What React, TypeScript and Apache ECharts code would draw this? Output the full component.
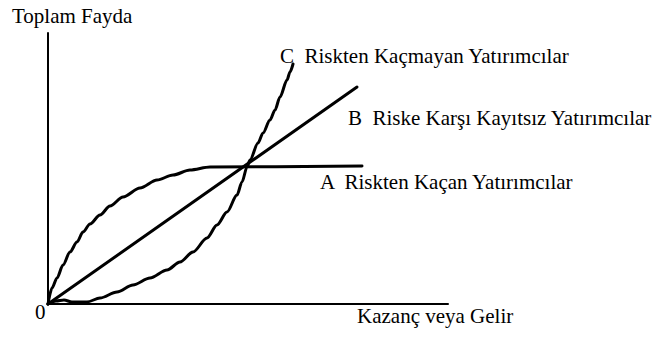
import React, { useEffect, useRef } from "react";
import * as echarts from "echarts";

// Conceptual utility curves: x = gain/income, y = total utility (arbitrary units)
const riskAverseCurve: [number, number][] = [
  [0, 0], [4, 16], [9, 26], [15, 39], [22, 52], [29, 62], [35, 72], [42, 80],
  [52, 89], [62, 98], [75, 107], [92, 116], [109, 124], [125, 129], [142, 134],
  [162, 137], [314, 138],
];
const riskNeutralLine: [number, number][] = [
  [0, 0], [309, 217],
];
const riskSeekingCurve: [number, number][] = [
  [0, 0], [8, 3], [16, 4], [24, 2], [39, 2], [52, 6], [69, 12], [85, 19],
  [102, 26], [119, 34], [132, 42], [145, 52], [159, 66], [169, 79], [179, 92],
  [189, 109], [194, 122], [199, 137], [202, 144], [210, 161], [215, 171],
  [222, 184], [227, 194], [232, 207], [239, 224], [242, 232], [245, 240],
];

const seriesLabels = [
  "C  Riskten Kaçmayan Yatırımcılar",
  "B  Riske Karşı Kayıtsız Yatırımcılar",
  "A  Riskten Kaçan Yatırımcılar",
];
const yAxisTitle = "Toplam Fayda";
const xAxisTitle = "Kazanç veya Gelir";
const originLabel = "0";

const FONT = "21px 'Liberation Serif', 'Times New Roman', serif";

export default function App() {
  const ref = useRef<HTMLDivElement>(null);
  useEffect(() => {
    if (!ref.current) return;
    const chart = echarts.init(ref.current, null, { renderer: "svg" });
    const lineSeries = (name: string, data: [number, number][], smooth: number) => ({
      type: "line" as const,
      name,
      data,
      showSymbol: false,
      symbol: "none",
      clip: false,
      smooth,
      smoothMonotone: "x",
      lineStyle: { color: "#000", width: 3, cap: "round", join: "round" },
    });
    const text = (t: string, x: number, y: number) => ({
      type: "text" as const,
      x,
      y,
      style: {
        text: t,
        font: FONT,
        fill: "#000",
        textAlign: "left",
        textVerticalAlign: "middle",
      },
    });
    chart.setOption({
      animation: false,
      backgroundColor: "#fff",
      grid: { left: 48, top: 33, width: 400, height: 271 },
      xAxis: {
        type: "value",
        min: 0,
        max: 400,
        axisLine: { show: true, lineStyle: { color: "#000", width: 2 } },
        axisTick: { show: false },
        axisLabel: { show: false },
        splitLine: { show: false },
      },
      yAxis: {
        type: "value",
        min: 0,
        max: 271,
        axisLine: { show: true, lineStyle: { color: "#000", width: 2 } },
        axisTick: { show: false },
        axisLabel: { show: false },
        splitLine: { show: false },
      },
      series: [
        lineSeries(seriesLabels[2], riskAverseCurve, 0.3),
        lineSeries(seriesLabels[1], riskNeutralLine, 0),
        lineSeries(seriesLabels[0], riskSeekingCurve, 0.3),
      ],
      graphic: [
        text(yAxisTitle, 12, 16),
        text(originLabel, 35, 312),
        text(xAxisTitle, 357, 316),
        text(seriesLabels[0], 280, 56),
        text(seriesLabels[1], 348, 118),
        text(seriesLabels[2], 320, 182),
      ],
    });
    return () => chart.dispose();
  }, []);
  return (
    <div
      ref={ref}
      style={{ position: "fixed", left: 0, top: 0, width: 657, height: 339, background: "#fff" }}
    />
  );
}
